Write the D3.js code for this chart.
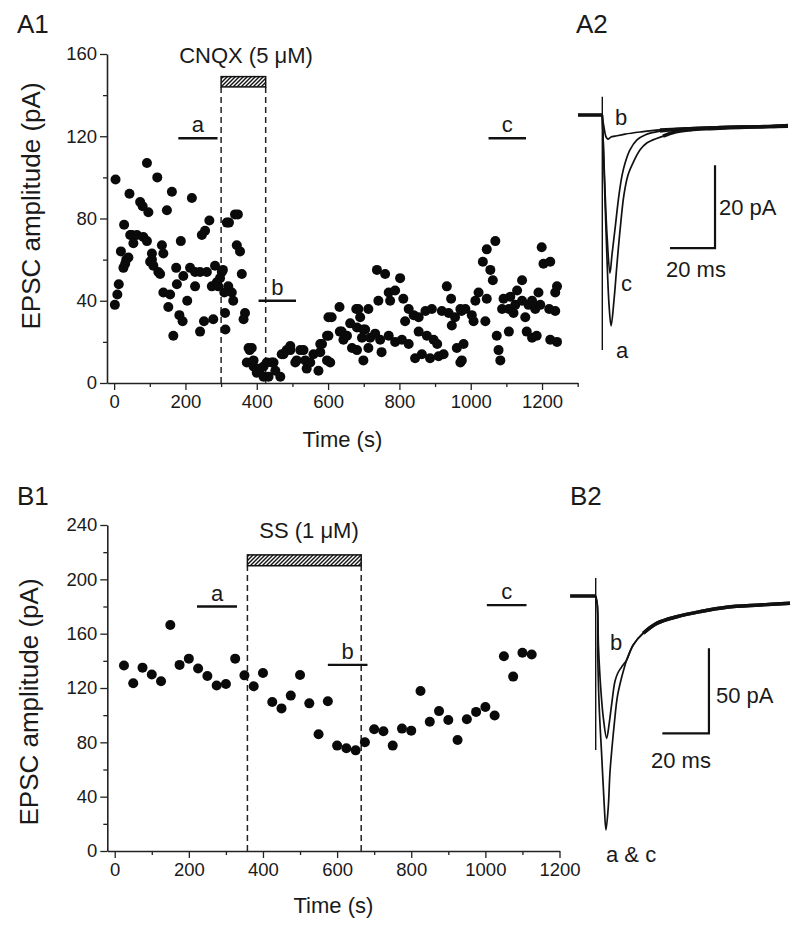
<!DOCTYPE html>
<html><head><meta charset="utf-8">
<script src="https://cdn.jsdelivr.net/npm/d3@7"></script>
<style>
body{margin:0;background:#fff}
text{font-family:"Liberation Sans",Arial,Helvetica,sans-serif;fill:#1a1a1a}
</style>
</head><body>
<svg id="fig" width="800" height="932"></svg>
<script>
// ---------- A1 data: [time (s), EPSC amplitude (pA)] ----------
const a1Points = [[2,38],[4,99],[9,43],[13,48],[19,64],[26,56],[28,77],[31,58],[34,60],[40,61],[43,92],[45,72],[50,72],[54,68],[64,72],[73,88],[80,86],[82,71],[92,107],[92,69],[96,83],[101,59],[106,63],[106,60],[110,57],[121,100],[124,54],[129,53],[134,67],[138,63],[138,44],[148,84],[152,37],[157,43],[162,93],[166,23],[174,56],[176,48],[183,33],[187,69],[192,30],[194,52],[205,40],[213,56],[218,90],[227,54],[227,47],[241,54],[241,25],[246,72],[252,30],[255,74],[260,54],[267,79],[274,47],[278,31],[283,57],[288,49],[292,47],[297,51],[302,54],[305,55],[309,44],[311,34],[312,26],[316,78],[320,47],[322,78],[330,44],[334,40],[339,82],[344,67],[347,82],[353,64],[358,53],[363,31],[367,34],[372,10],[377,17],[380,16],[386,17],[391,8],[391,11],[400,5],[400,6],[410,7],[419,3],[419,8],[428,10],[433,3],[442,10],[447,10],[452,6],[466,3],[470,14],[475,14],[484,16],[494,16],[494,18],[508,10],[512,11],[522,16],[531,16],[536,11],[540,7],[550,10],[559,14],[573,6],[578,15],[578,19],[583,19],[597,23],[597,11],[601,32],[601,23],[606,10],[610,32],[632,37],[633,25],[638,25],[643,21],[653,23],[662,29],[667,17],[679,36],[681,27],[681,16],[685,36],[690,32],[695,22],[699,26],[699,11],[704,26],[713,36],[713,17],[718,22],[732,24],[737,55],[741,40],[746,21],[750,15],[760,53],[770,44],[770,23],[774,40],[788,45],[788,20],[802,51],[807,21],[811,41],[816,30],[826,36],[826,19],[840,33],[844,12],[854,32],[854,25],[863,14],[873,35],[877,23],[886,12],[891,36],[896,21],[906,19],[910,13],[919,35],[924,14],[933,47],[938,34],[945,41],[947,28],[956,32],[961,17],[971,36],[971,10],[974,35],[975,11],[980,19],[985,36],[1003,33],[1008,30],[1013,40],[1022,44],[1034,59],[1041,30],[1045,65],[1045,41],[1055,55],[1062,50],[1069,69],[1073,23],[1078,16],[1083,11],[1088,36],[1092,41],[1107,36],[1107,25],[1111,42],[1120,34],[1125,38],[1130,45],[1144,50],[1144,40],[1153,32],[1157,25],[1162,38],[1172,40],[1172,22],[1181,36],[1185,23],[1190,44],[1195,38],[1199,66],[1204,58],[1220,36],[1223,59],[1223,21],[1237,35],[1237,44],[1242,47],[1242,20]];
const a1XTicks = [0,200,400,600,800,1000,1200];
const a1XMinor = [100,300,500,700,900,1100,1300];
const a1YTicks = [0,40,80,120,160];
const a1YMinor = [20,60,100,140];
const a1Drug = {label:"CNQX (5 \u03bcM)", t0:300, t1:425, y0:144, y1:149};
const a1Periods = [{label:"a", t0:180, t1:290, y:119},{label:"b", t0:405, t1:510, y:40},{label:"c", t0:1050, t1:1155, y:119}];

// ---------- B1 data ----------
const b1Time = [25,50,75,100,125,150,175,200,225,250,275,300,325,350,375,400,425,450,475,500,525,550,575,600,625,650,675,700,725,750,775,800,825,850,875,900,925,950,975,1000,1025,1050,1075,1100,1125];
const b1Amp  = [136.5,123.5,135,130,125,166.4,137,141.6,134.3,128.9,121.8,123,141.6,129.3,121.3,131,109.7,105,114.4,129.6,108.7,85.9,110.2,77.6,75.6,74.1,80,89.6,88.1,77.6,90.1,88.6,117.8,95.2,103,96.5,81.7,97,102.4,106,99.7,143.4,128.4,146,144.6];
const b1XTicks = [0,200,400,600,800,1000,1200];
const b1XMinor = [100,300,500,700,900,1100];
const b1YTicks = [0,40,80,120,160,200,240];
const b1YMinor = [20,60,100,140,180,220];
const b1Drug = {label:"SS (1 \u03bcM)", t0:358, t1:665, y0:210, y1:218};
const b1Periods = [{label:"a", t0:222, t1:330, y:180},{label:"b", t0:575, t1:682, y:137},{label:"c", t0:1004, t1:1111, y:181}];

// ---------- A2 traces: [ms after stimulus, pA relative to baseline] ----------
const a2Pre = [[-10.8,0],[0,0]];
const a2TraceA = [[0,0],[0.3,-4.8],[1.2,-20.5],[2.1,-34.9],[3.0,-45.8],[3.9,-50.8],[5.2,-44.6],[6.5,-36.1],[7.9,-27.7],[9.6,-19.3],[11.4,-14.5],[13.6,-11.6],[16.8,-8.4],[19.9,-6.7],[22.5,-6.0],[27,-5.1],[32.3,-4.1],[39,-3.6],[47.9,-3.3],[61.2,-3.0],[74.5,-2.8],[82.5,-2.7]];
const a2TraceC = [[0,0],[0.3,-4.5],[1.2,-18],[2.1,-29],[3.4,-38.1],[4.3,-33.7],[5.6,-27.7],[7.4,-19.3],[8.8,-14.5],[10.1,-11.6],[12.3,-8.4],[15.4,-6.0],[19,-4.8],[25.6,-3.9],[34.5,-3.4],[47.9,-3.1],[61.2,-2.9],[74.5,-2.8],[82.5,-2.6]];
const a2TraceB = [[0,0],[0.1,-0.7],[0.8,-3.1],[1.7,-5.3],[2.5,-5.8],[3.9,-5.3],[5.6,-5.1],[10.1,-4.6],[16.8,-4.1],[25.6,-3.6],[39,-3.3],[52.3,-3.0],[70,-2.8],[82.5,-2.5]];
const a2Stim = [4.4,-56.6];
const a2Bar = {ms:20, pA:20, x:50.1, y:-32.1};

// ---------- B2 traces ----------
const b2Pre = [[-11,0],[0,0]];
const b2TraceAC = [[0,0],[0.7,-5.3],[0.9,-35.7],[1.5,-65.1],[2.6,-94.5],[3.7,-124],[4.4,-137.6],[5.4,-124],[6.1,-104.3],[6.9,-90.6],[8.0,-74.9],[9.3,-59.2],[11.2,-47.5],[12.3,-42],[13.3,-37.6],[16.1,-28.8],[20.4,-21.9],[26.2,-16.1],[34.8,-12.2],[44.8,-9.2],[56.2,-6.6],[70.5,-5.3],[83.4,-4.3]];
const b2TraceB = [[0,0],[0.7,-5.3],[1.2,-30],[2.2,-55],[3.3,-72],[4.7,-83.7],[5.8,-74.9],[6.9,-63.1],[8.3,-50],[9.6,-45],[11,-42],[12.3,-39.6],[13.3,-37.6],[16.1,-28.8],[20.4,-21.9],[26.2,-16.1],[34.8,-12.2],[44.8,-9.2],[56.2,-6.6],[70.5,-5.3],[83.4,-4.3]];
const b2Stim = [10.6,-90.6];
const b2Bar = {ms:20, pA:50, x:48.6, y:-80.8};

const svg = d3.select("#fig");
const defs = svg.append("defs");
const pat = defs.append("pattern").attr("id","hatch").attr("patternUnits","userSpaceOnUse")
  .attr("width",4).attr("height",4);
pat.append("rect").attr("width",4).attr("height",4).attr("fill","#fff");
pat.append("path").attr("d","M-1,1 l2,-2 M0,4 l4,-4 M3,5 l2,-2").attr("stroke","#111").attr("stroke-width",1.4);

function scatterPanel(cfg){
  const g = svg.append("g");
  const x = d3.scaleLinear().domain(cfg.xDomain).range(cfg.xRange);
  const y = d3.scaleLinear().domain(cfg.yDomain).range(cfg.yRange);
  g.append("g").attr("transform",`translate(0,${cfg.yRange[0]})`)
    .call(d3.axisBottom(x).tickValues(cfg.xTicks).tickSize(7).tickSizeOuter(0).tickPadding(5).tickFormat(d3.format("d")));
  g.append("g").attr("transform",`translate(0,${cfg.yRange[0]})`)
    .call(d3.axisBottom(x).tickValues(cfg.xMinor).tickSize(4).tickSizeOuter(0).tickFormat(""))
    .select(".domain").remove();
  g.append("g").attr("transform",`translate(${cfg.xRange[0]},0)`)
    .call(d3.axisLeft(y).tickValues(cfg.yTicks).tickSize(7).tickSizeOuter(0).tickPadding(3).tickFormat(d3.format("d")));
  g.append("g").attr("transform",`translate(${cfg.xRange[0]},0)`)
    .call(d3.axisLeft(y).tickValues(cfg.yMinor).tickSize(4).tickSizeOuter(0).tickFormat(""))
    .select(".domain").remove();
  g.selectAll(".domain").attr("stroke","#222").attr("stroke-width",1.6);
  g.selectAll(".tick line").attr("stroke","#222").attr("stroke-width",1.3);
  g.selectAll(".tick text").attr("font-size",18.5).attr("fill","#1a1a1a")
    .attr("font-family",'"Liberation Sans",Arial,sans-serif');

  const d = cfg.drug;
  [d.t0,d.t1].forEach(t=>{
    g.append("line").attr("x1",x(t)).attr("x2",x(t)).attr("y1",y(0)).attr("y2",y(d.y0))
      .attr("stroke","#222").attr("stroke-width",1.5).attr("stroke-dasharray","6,4");
  });
  g.append("rect").attr("x",x(d.t0)).attr("y",y(d.y1)).attr("width",x(d.t1)-x(d.t0)).attr("height",y(d.y0)-y(d.y1))
    .attr("fill","url(#hatch)").attr("stroke","#111").attr("stroke-width",1.5);
  g.append("text").attr("x",cfg.drugLabelX).attr("y",cfg.drugLabelY).attr("text-anchor","middle")
    .attr("font-size",22).text(d.label);

  cfg.periods.forEach(p=>{
    g.append("line").attr("x1",x(p.t0)).attr("x2",x(p.t1)).attr("y1",y(p.y)).attr("y2",y(p.y))
      .attr("stroke","#111").attr("stroke-width",2.4);
    g.append("text").attr("x",(x(p.t0)+x(p.t1))/2).attr("y",y(p.y)-6).attr("text-anchor","middle")
      .attr("font-size",22).text(p.label);
  });

  g.append("g").selectAll("circle").data(cfg.points).join("circle")
    .attr("cx",p=>x(p[0])).attr("cy",p=>y(p[1])).attr("r",cfg.r).attr("fill","#0a0a0a");

  g.append("text").attr("x",(cfg.xRange[0]+cfg.xRange[1])/2).attr("y",cfg.xTitleY).attr("text-anchor","middle")
    .attr("font-size",22).text("Time (s)");
  g.append("text").attr("transform",`translate(${cfg.yTitleX},${cfg.yTitleY}) rotate(-90)`).attr("text-anchor","middle")
    .attr("font-size",26).text("EPSC amplitude (pA)");
}

scatterPanel({
  xDomain:[-20,1300], xRange:[107,577.7], yDomain:[0,160], yRange:[383,54],
  xTicks:a1XTicks, xMinor:a1XMinor, yTicks:a1YTicks, yMinor:a1YMinor,
  drug:a1Drug, drugLabelX:246, drugLabelY:63, periods:a1Periods,
  points:a1Points, r:5, xTitleY:447, yTitleX:40, yTitleY:206
});
scatterPanel({
  xDomain:[-20,1200], xRange:[107.3,559.5], yDomain:[0,240], yRange:[851,525],
  xTicks:b1XTicks, xMinor:b1XMinor, yTicks:b1YTicks, yMinor:b1YMinor,
  drug:b1Drug, drugLabelX:309, drugLabelY:538, periods:b1Periods,
  points:b1Time.map((t,i)=>[t,b1Amp[i]]), r:5, xTitleY:913, yTitleX:38, yTitleY:702
});

function tracePanel(cfg){
  const g = svg.append("g");
  const x = d3.scaleLinear().domain([0,20]).range([cfg.x0, cfg.x0+cfg.pxPer20ms]);
  const y = d3.scaleLinear().domain([0,-cfg.barPA]).range([cfg.y0, cfg.y0+cfg.pxPerBar]);
  const line = d3.line().x(d=>x(d[0])).y(d=>y(d[1])).curve(d3.curveCatmullRom.alpha(0.5));
  g.append("line").attr("x1",x(0)).attr("x2",x(0)).attr("y1",y(cfg.stim[0])).attr("y2",y(cfg.stim[1]))
    .attr("stroke","#111").attr("stroke-width",1.4);
  g.append("path").attr("d",d3.line().x(d=>x(d[0])).y(d=>y(d[1]))(cfg.pre))
    .attr("stroke","#111").attr("stroke-width",3.6).attr("fill","none");
  cfg.traces.forEach(t=>{
    g.append("path").attr("d",line(t)).attr("stroke","#111").attr("stroke-width",1.7).attr("fill","none");
  });
  cfg.traces.forEach(t=>{
    g.append("path").attr("d",line(t.filter(d=>d[0]>=cfg.tailFrom))).attr("stroke","#111")
      .attr("stroke-width",3.4).attr("fill","none");
  });
  const b = cfg.bar;
  g.append("path").attr("d",`M${x(b.x-b.ms)},${y(b.y)}H${x(b.x)}V${y(b.y+b.pA)}`)
    .attr("stroke","#111").attr("stroke-width",2.2).attr("fill","none");
  cfg.labels.forEach(l=>{
    g.append("text").attr("x",l[1]).attr("y",l[2]).attr("font-size",22).text(l[0]);
  });
}

tracePanel({x0:602.3, pxPer20ms:45, y0:115, barPA:20, pxPerBar:83,
  stim:a2Stim, pre:a2Pre, traces:[a2TraceA,a2TraceC,a2TraceB], tailFrom:25, bar:a2Bar,
  labels:[["b",615,125],["c",621,291],["a",616,358],["20 pA",719,215],["20 ms",666,277]]});
tracePanel({x0:595.7, pxPer20ms:46.6, y0:596, barPA:50, pxPerBar:85,
  stim:b2Stim, pre:b2Pre, traces:[b2TraceAC,b2TraceB], tailFrom:20, bar:b2Bar,
  labels:[["b",610,650],["50 pA",716,703],["20 ms",651,768],["a & c",606,862]]});

[["A1",17,33],["A2",576,33],["B1",17,505],["B2",570,505]].forEach(p=>{
  svg.append("text").attr("x",p[1]).attr("y",p[2]).attr("font-size",26).text(p[0]);
});
</script>
</body></html>
